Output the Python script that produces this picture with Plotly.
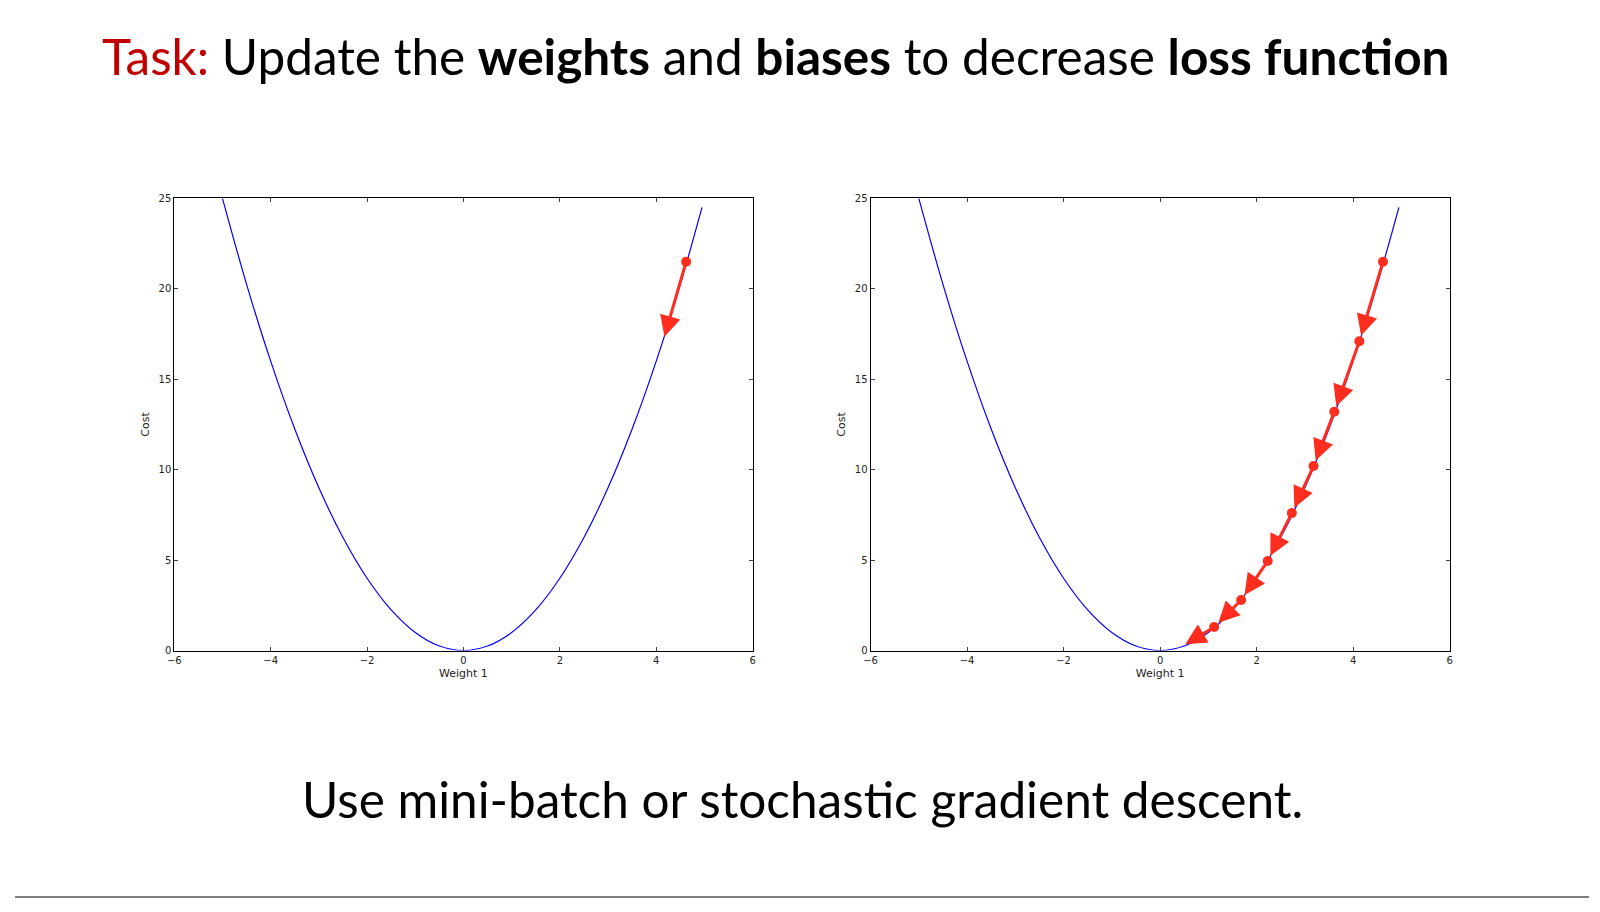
import plotly.graph_objects as go

# curve readings (Weight 1 -> Cost), same curve on both panels
weight = [-5.0, -4.5, -4.0, -3.5, -3.0, -2.5, -2.0, -1.5, -1.0, -0.5, 0.0,
          0.5, 1.0, 1.5, 2.0, 2.5, 3.0, 3.5, 4.0, 4.5, 4.95]
cost = [25.0, 20.25, 16.0, 12.25, 9.0, 6.25, 4.0, 2.25, 1.0, 0.25, 0.0,
        0.25, 1.0, 2.25, 4.0, 6.25, 9.0, 12.25, 16.0, 20.25, 24.5]

# left panel: a single step
step_x = [4.62, 4.17]
step_y = [21.5, 17.35]

# right panel: several steps down the curve
path_x = [4.62, 4.13, 3.61, 3.18, 2.73, 2.23, 1.68, 1.12, 0.52]
path_y = [21.5, 17.1, 13.2, 10.2, 7.6, 4.95, 2.8, 1.3, 0.35]

x_ticks = [-6, -4, -2, 0, 2, 4, 6]
y_ticks = [0, 5, 10, 15, 20, 25]

title_html = ('<span style="color:#c00000">Task:</span> Update the <b>weights</b> '
              'and <b>biases</b> to decrease <b>loss function</b>')
footer = "Use mini-batch or stochastic gradient descent."

BLUE = "#0000ff"
RED = "#ff2d1e"
OFF = 8  # page body margin around the figure
W, H = 1600 - 2 * OFF, 912 - 2 * OFF


def fx(px):
    return (px - OFF) / W


def fy(py):
    return 1 - (py - OFF) / H


fig = go.Figure()

panels = [("x", "y", step_x, step_y), ("x2", "y2", path_x, path_y)]
for xr, yr, px, py in panels:
    fig.add_trace(go.Scatter(x=weight, y=cost, mode="lines", xaxis=xr, yaxis=yr,
                             line=dict(color=BLUE, width=1.2, shape="spline"),
                             showlegend=False, hoverinfo="skip"))
    # arrows between successive positions
    for i in range(len(px) - 1):
        last = i == len(px) - 2
        fig.add_annotation(x=px[i + 1], y=py[i + 1], ax=px[i], ay=py[i],
                           xref=xr, yref=yr, axref=xr, ayref=yr,
                           showarrow=True, arrowhead=2, arrowsize=1.4,
                           arrowwidth=3, arrowcolor=RED, text="",
                           standoff=0 if last else 6, startstandoff=0)
    fig.add_trace(go.Scatter(x=px[:-1], y=py[:-1], mode="markers", xaxis=xr, yaxis=yr,
                             marker=dict(color=RED, size=10, line=dict(width=0)),
                             showlegend=False, hoverinfo="skip"))

tick_font = dict(family="DejaVu Sans", size=10, color="#222")
axis_common = dict(showgrid=False, zeroline=False, showline=True, linecolor="#000",
                   linewidth=1, mirror="ticks", ticks="inside", ticklen=4,
                   tickcolor="#444", tickfont=tick_font)

y_dom = [fy(653.5), fy(195.7)]
fig.update_layout(
    width=W, height=H,
    margin=dict(l=0, r=0, t=0, b=0),
    paper_bgcolor="white", plot_bgcolor="white",
    xaxis=dict(domain=[fx(168.3), fx(750.3)], range=[-6, 6], tickvals=x_ticks,
               title=dict(text="Weight 1", standoff=4, font=dict(tick_font, size=11)),
               anchor="y", **axis_common),
    yaxis=dict(domain=y_dom, range=[0, 25], tickvals=y_ticks,
               title=dict(text="Cost", standoff=6, font=dict(tick_font, size=11)),
               anchor="x", **axis_common),
    xaxis2=dict(domain=[fx(869), fx(1451.7)], range=[-6, 6], tickvals=x_ticks,
                title=dict(text="Weight 1", standoff=4, font=dict(tick_font, size=11)),
                anchor="y2", **axis_common),
    yaxis2=dict(domain=y_dom, range=[0, 25], tickvals=y_ticks,
                title=dict(text="Cost", standoff=6, font=dict(tick_font, size=11)),
                anchor="x2", **axis_common),
)

fig.add_annotation(text=title_html, xref="paper", yref="paper",
                   x=fx(94), y=fy(52), xanchor="left", yanchor="middle",
                   showarrow=False, font=dict(family="Lato", size=49.5, color="#000"))
fig.add_annotation(text=footer, xref="paper", yref="paper",
                   x=fx(800), y=fy(804), xanchor="center", yanchor="middle",
                   showarrow=False, font=dict(family="Lato", size=49.5, color="#000"))

# thin grey rule along the bottom edge
fig.add_shape(type="line", xref="paper", yref="paper", x0=0, x1=1, y0=0.001, y1=0.001,
              line=dict(color="#808080", width=2))

fig.write_html("out.html")
